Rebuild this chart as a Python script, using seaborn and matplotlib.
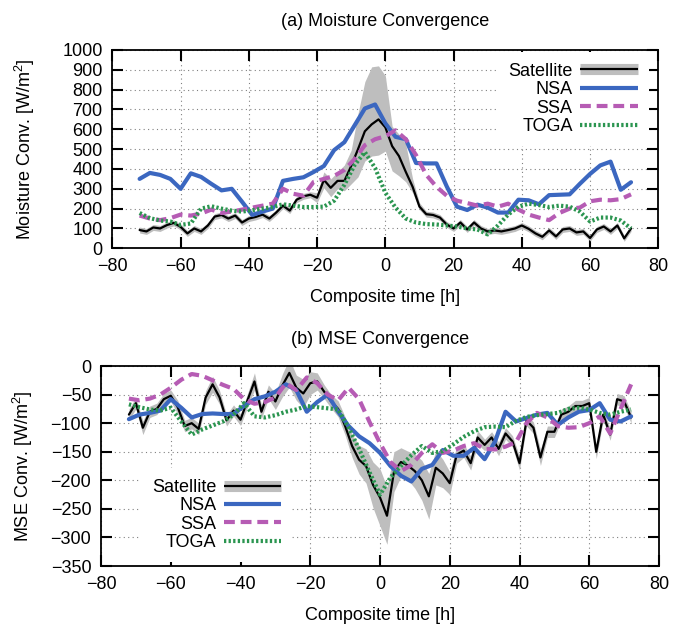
import numpy as np
import pandas as pd
import matplotlib
matplotlib.use("Agg")
import matplotlib.pyplot as plt
import seaborn as sns
from matplotlib.lines import Line2D
from matplotlib.legend_handler import HandlerTuple

sns.set_style("white")
plt.rcParams['font.family'] = ['Liberation Sans', 'DejaVu Sans']
plt.rcParams['mathtext.default'] = 'regular'
for k in ('text.color', 'axes.labelcolor', 'xtick.color', 'ytick.color'):
    plt.rcParams[k] = 'black'

# %%
# composite time axes: sondes every 3 h, satellite every 2 h
t_sonde = list(range(-72, 73, 3))
t_sat = list(range(-72, 73, 2))

# (a) moisture convergence [W/m2]
nsa_a = [350, 380, 370, 350, 300, 378, 360, 325, 292, 300,
         235, 168, 185, 200, 340, 350, 358, 385, 415, 495,
         535, 620, 705, 725, 630, 562, 550, 430, 428, 428,
         312, 210, 193, 220, 205, 180, 180, 245, 242, 222,
         268, 270, 272, 325, 375, 418, 437, 295, 333]
ssa_a = [165, 150, 142, 152, 170, 165, 175, 195, 178, 185,
         195, 205, 215, 225, 300, 275, 265, 335, 350, 365,
         395, 450, 520, 550, 565, 595, 550, 470, 370, 310,
         265, 240, 228, 215, 225, 210, 225, 195, 170, 155,
         142, 178, 200, 205, 237, 245, 242, 248, 272]
toga_a = [178, 152, 140, 135, 118, 125, 200, 212, 200, 190,
          185, 192, 200, 208, 222, 215, 208, 208, 210, 240,
          320, 420, 485, 405, 280, 205, 150, 130, 122, 120,
          115, 110, 100, 95, 70, 115, 170, 210, 225, 218,
          208, 215, 210, 185, 135, 155, 155, 140, 100]
sat_a = [92, 85, 105, 100, 117, 128, 108, 75, 100, 85,
         115, 160, 168, 150, 165, 130, 150, 158, 170, 150,
         180, 215, 190, 245, 262, 270, 255, 345, 305, 340,
         340, 415, 500, 590, 625, 650, 610, 515, 465, 385,
         310, 210, 172, 168, 155, 120, 100, 130, 95, 130,
         100, 85, 90, 85, 92, 100, 115, 98, 75, 58,
         90, 60, 95, 100, 80, 85, 52, 95, 110, 85,
         115, 50, 100]
sat_a_up = [15, 15, 15, 15, 15, 15, 15, 15, 15, 15,
            15, 15, 15, 15, 15, 15, 15, 15, 15, 15,
            15, 15, 15, 15, 15, 15, 25, 40, 45, 45,
            80, 80, 180, 250, 290, 270, 260, 100, 110, 140,
            40, 20, 15, 15, 15, 15, 15, 15, 15, 15,
            15, 15, 15, 15, 15, 15, 15, 15, 15, 15,
            15, 15, 15, 15, 15, 15, 15, 15, 15, 15,
            15, 15, 15]
sat_a_dn = [15, 15, 15, 15, 15, 15, 15, 15, 15, 15,
            15, 15, 15, 15, 15, 15, 15, 15, 15, 15,
            15, 15, 15, 15, 15, 15, 25, 40, 45, 40,
            50, 90, 140, 150, 160, 180, 120, 125, 100, 50,
            30, 15, 15, 15, 15, 15, 15, 15, 15, 15,
            15, 15, 15, 15, 15, 15, 15, 15, 15, 15,
            15, 15, 15, 15, 15, 15, 15, 15, 15, 15,
            15, 15, 15]

# (b) MSE convergence [W/m2]
nsa_b = [-93, -85, -82, -78, -58, -73, -90, -84, -83, -84,
         -84, -70, -58, -53, -45, -32, -42, -80, -63, -50,
         -80, -105, -123, -135, -152, -175, -192, -202, -180, -173,
         -147, -157, -157, -143, -163, -132, -80, -97, -91, -85,
         -82, -103, -90, -80, -77, -65, -94, -97, -88]
ssa_b = [-57, -60, -57, -50, -38, -24, -14, -17, -25, -33,
         -40, -58, -66, -63, -55, -30, -42, -20, -30, -50,
         -60, -38, -58, -98, -135, -168, -184, -173, -152, -137,
         -152, -148, -140, -135, -145, -146, -141, -133, -100, -82,
         -90, -105, -108, -107, -100, -88, -118, -75, -32]
toga_b = [-67, -72, -76, -78, -73, -97, -120, -111, -104, -97,
          -85, -65, -88, -90, -86, -80, -76, -70, -72, -74,
          -76, -108, -145, -186, -225, -195, -175, -156, -140, -152,
          -149, -137, -124, -114, -107, -106, -107, -96, -89, -86,
          -84, -82, -75, -73, -76, -82, -85, -80, -76]
sat_b = [-85, -65, -108, -80, -75, -58, -52, -72, -105, -100,
         -110, -55, -32, -55, -95, -78, -94, -60, -27, -80,
         -45, -62, -34, -12, -38, -48, -30, -27, -45, -62,
         -75, -105, -140, -164, -175, -208, -230, -262, -185, -168,
         -174, -184, -200, -228, -178, -188, -205, -155, -148, -170,
         -125, -138, -125, -145, -118, -132, -170, -95, -108, -160,
         -115, -115, -85, -80, -70, -70, -65, -150, -85, -120,
         -58, -62, -90]
sat_b_spread = [10, 10, 12, 10, 10, 10, 10, 12, 10, 10,
                10, 12, 14, 12, 10, 10, 10, 12, 15, 12,
                12, 14, 20, 25, 22, 25, 20, 15, 12, 12,
                14, 16, 20, 25, 30, 40, 50, 50, 35, 25,
                25, 30, 35, 40, 30, 25, 20, 15, 12, 12,
                12, 10, 10, 12, 10, 10, 12, 10, 10, 14,
                10, 10, 10, 10, 10, 10, 10, 12, 10, 10,
                10, 10, 10]

# %%
c_nsa = '#3b67c0'
c_ssa = '#b65cb4'
c_toga = '#2b9550'
c_band = '#bebebe'
dash_ssa = (0, (2.6, 1.4))
dot_toga = (0, (0.55, 0.55))

fig = plt.figure(figsize=(6.73, 6.24), dpi=100)
ax_a = fig.add_axes([0.1669, 0.6021, 0.8113, 0.3178])
ax_b = fig.add_axes([0.1501, 0.0929, 0.8291, 0.3205])


def draw_panel(ax, sat, lo, hi, nsa, ssa, toga):
    sonde = pd.DataFrame({'t': t_sonde, 'NSA': nsa, 'SSA': ssa, 'TOGA': toga})
    sat_df = pd.DataFrame({'t': t_sat, 'sat': sat, 'lo': lo, 'hi': hi})
    ax.fill_between(sat_df['t'], sat_df['lo'], sat_df['hi'], color=c_band, lw=0, zorder=2)
    sns.lineplot(data=sat_df, x='t', y='sat', ax=ax, color='black', lw=1.6, zorder=3)
    sns.lineplot(data=sonde, x='t', y='NSA', ax=ax, color=c_nsa, lw=3, zorder=4)
    sns.lineplot(data=sonde, x='t', y='SSA', ax=ax, color=c_ssa, lw=3, linestyle=dash_ssa, zorder=4)
    sns.lineplot(data=sonde, x='t', y='TOGA', ax=ax, color=c_toga, lw=3, linestyle=dot_toga, zorder=4)
    ax.set_xlim(-80, 80)
    ax.set_xticks(range(-80, 81, 20))
    ax.grid(True, color='0.5', linestyle=(0, (1, 3)), linewidth=0.8)
    ax.tick_params(direction='in', length=8, width=1.5, bottom=True, left=True,
                   top=True, right=True, labelsize=13, pad=7)
    for s in ax.spines.values():
        s.set_linewidth(1.3)
        s.set_color('black')
    ax.set_xlabel('Composite time [h]', fontsize=13, labelpad=10)


a_lo = [s - d for s, d in zip(sat_a, sat_a_dn)]
a_hi = [s + u for s, u in zip(sat_a, sat_a_up)]
draw_panel(ax_a, sat_a, a_lo, a_hi, nsa_a, ssa_a, toga_a)
ax_a.set_ylim(0, 1000)
ax_a.set_yticks(range(0, 1001, 100))
ax_a.set_ylabel('Moisture Conv. [W/m$^2$]', fontsize=13, labelpad=18)
ax_a.set_title('(a) Moisture Convergence', fontsize=13, pad=17)

b_lo = [s - d for s, d in zip(sat_b, sat_b_spread)]
b_hi = [s + d for s, d in zip(sat_b, sat_b_spread)]
draw_panel(ax_b, sat_b, b_lo, b_hi, nsa_b, ssa_b, toga_b)
ax_b.set_ylim(-350, 0)
ax_b.set_yticks(range(-350, 1, 50))
ax_b.set_ylabel('MSE Conv. [W/m$^2$]', fontsize=13, labelpad=11)
ax_b.set_title('(b) MSE Convergence', fontsize=13, pad=16)

# gnuplot-like key: label on the left, sample on the right
handles = [(Line2D([], [], color=c_band, lw=8, solid_capstyle='butt'),
            Line2D([], [], color='black', lw=1.6, solid_capstyle='butt')),
           Line2D([], [], color=c_nsa, lw=3, solid_capstyle='butt'),
           Line2D([], [], color=c_ssa, lw=3, linestyle=dash_ssa),
           Line2D([], [], color=c_toga, lw=3, linestyle=dot_toga)]
labels = ['Satellite', 'NSA', 'SSA', 'TOGA']
key = dict(handler_map={tuple: HandlerTuple(ndivide=1)}, markerfirst=False,
           fontsize=13, handlelength=3.2, handletextpad=0.4, labelspacing=0.08,
           borderpad=0.6, borderaxespad=0, frameon=True, fancybox=False,
           facecolor='white', edgecolor='none', framealpha=1)
leg_a = ax_a.legend(handles, labels, loc='upper right', bbox_to_anchor=(0.982, 0.99), **key)
leg_b = ax_b.legend(handles, labels, loc='lower left', bbox_to_anchor=(0.072, 0.02), **key)

for ax in (ax_a, ax_b):
    ax.get_legend().set_zorder(5)

fig.savefig('out.png', dpi=100)
